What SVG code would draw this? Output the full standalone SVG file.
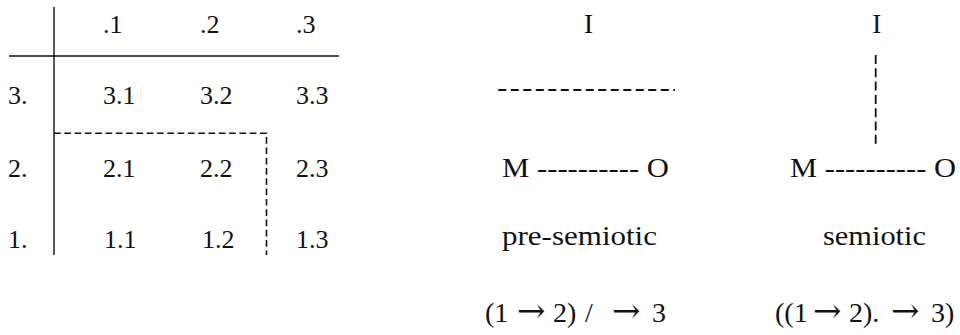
<svg xmlns="http://www.w3.org/2000/svg" width="960" height="335" viewBox="0 0 960 335">
<style>
text{font-family:"Liberation Serif","Times New Roman",serif;font-size:26px;fill:#111}
.w{font-size:27px}
.f{font-size:28px}
.ar{font-family:"DejaVu Serif","DejaVu Sans",serif;font-size:34px}
.solid{stroke:#111;stroke-width:1.4;fill:none}
.dash{stroke:#111;stroke-width:1.6;fill:none;stroke-dasharray:6.7 3.6}
.dash2{stroke:#111;stroke-width:2;fill:none;stroke-dasharray:8 4.5}
.dash3{stroke:#111;stroke-width:1.8;fill:none;stroke-dasharray:9 4.3}
</style>
<rect width="960" height="335" fill="#fff"/>
<g id="table">
<line class="solid" x1="54" y1="7" x2="54" y2="255"/>
<line class="solid" x1="9" y1="56" x2="339" y2="56"/>
<polyline class="dash" points="54,133.3 266.5,133.3 266.5,255"/>
<text x="103" y="33">.1</text>
<text x="200" y="33">.2</text>
<text x="296" y="33">.3</text>
<text x="8" y="104">3.</text>
<text x="103" y="104">3.1</text>
<text x="200" y="104">3.2</text>
<text x="296" y="104">3.3</text>
<text x="8" y="177">2.</text>
<text x="103" y="177">2.1</text>
<text x="200" y="177">2.2</text>
<text x="296" y="177">2.3</text>
<text x="8" y="248">1.</text>
<text x="104" y="248">1.1</text>
<text x="202" y="248">1.2</text>
<text x="296" y="248">1.3</text>
</g>
<g id="pre-semiotic">
<text class="w" x="588.5" y="33" text-anchor="middle">I</text>
<line class="dash2" x1="498.3" y1="90" x2="675" y2="90"/>
<text class="w" x="502" y="177" textLength="167" lengthAdjust="spacingAndGlyphs">M ---------- O</text>
<text class="w" x="502" y="245" textLength="155" lengthAdjust="spacingAndGlyphs">pre-semiotic</text>
<text class="f" y="322"><tspan x="485">(1</tspan><tspan class="ar" x="517">→</tspan><tspan x="553">2)</tspan><tspan x="585">/</tspan><tspan class="ar" x="612">→</tspan><tspan x="652">3</tspan></text>
</g>
<g id="semiotic">
<text class="w" x="876.7" y="33" text-anchor="middle">I</text>
<line class="dash3" x1="875.7" y1="55" x2="875.7" y2="146"/>
<text class="w" x="790" y="177" textLength="166" lengthAdjust="spacingAndGlyphs">M ---------- O</text>
<text class="w" x="823" y="245" textLength="103" lengthAdjust="spacingAndGlyphs">semiotic</text>
<text class="f" y="322"><tspan x="775">((1</tspan><tspan class="ar" x="813">→</tspan><tspan x="849">2).</tspan><tspan class="ar" x="891">→</tspan><tspan x="931">3)</tspan></text>
</g>
</svg>
